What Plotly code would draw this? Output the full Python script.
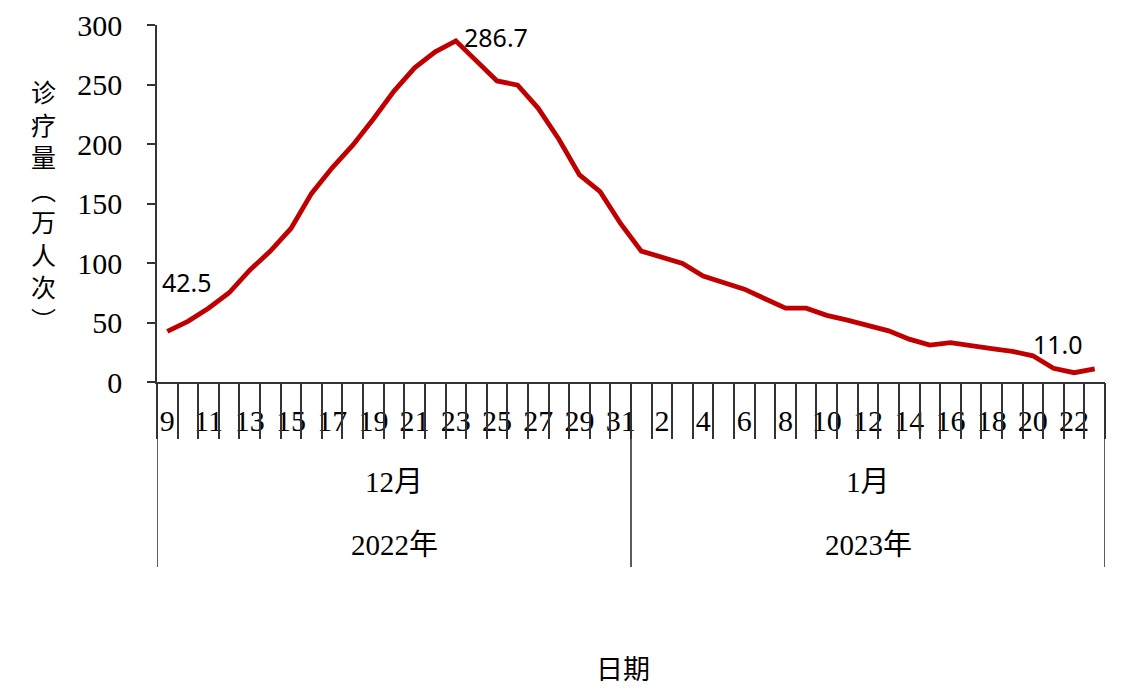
import plotly.graph_objects as go

# ---------------- data ----------------
dec_days = list(range(9, 32))
jan_days = list(range(1, 24))
dec_values = [42.5, 51, 62, 75, 94, 110, 129, 158.5, 180, 199, 221, 244.5, 264,
              277.5, 286.7, 270.5, 253, 249.5, 230, 204, 174, 160, 133]
jan_values = [110, 105, 99.7, 89, 84, 78, 70, 62, 62, 56, 52, 47.6, 43, 36, 31,
              33, 30, 28, 25.8, 22, 11.5, 7.8, 11.0]
month_labels = ["12月", "1月"]
year_labels = ["2022年", "2023年"]
y_title_chars = ["诊", "疗", "量", "︵", "万", "人", "次", "︶"]
x_title = "日期"
y_ticks = [0, 50, 100, 150, 200, 250, 300]

days = dec_days + jan_days
values = dec_values + jan_values
idx = list(range(len(days)))
n_dec = len(dec_days)
group_bounds = [(0, n_dec - 1), (n_dec, len(days) - 1)]

SERIF = "Liberation Serif, Times New Roman, Noto Sans CJK SC, serif"
CJK = "Noto Sans CJK SC, sans-serif"
LAB = "Noto Sans, Open Sans, sans-serif"
AX = "#333333"
RED = "#C00000"

fig = go.Figure()
fig.add_trace(go.Scatter(x=idx, y=values, mode="lines",
                         line=dict(color=RED, width=4.8),
                         showlegend=False, hoverinfo="x+y"))
# helper trace so that the boundary-tick axis is drawn
fig.add_trace(go.Scatter(x=idx, y=values, mode="none", xaxis="x2",
                         showlegend=False, hoverinfo="skip"))

label_idx = idx[::2]
label_txt = [str(d) for d in days[::2]]
boundaries = [i - 0.5 for i in idx] + [idx[-1] + 0.5]
xr = [-0.5, idx[-1] + 0.5]

# page body has an 8px margin: figure is 8px smaller and shifted accordingly
fig.update_layout(
    width=1140, height=690,
    margin=dict(l=149, r=43, t=17, b=316, autoexpand=False),
    paper_bgcolor="white", plot_bgcolor="white",
    xaxis=dict(range=xr, tickmode="array", tickvals=label_idx, ticktext=label_txt,
               ticks="", showline=True, linecolor=AX, linewidth=1.6,
               showgrid=False, zeroline=False, automargin=False,
               tickfont=dict(family=SERIF, size=30, color="black"),
               ticklabelstandoff=11),
    xaxis2=dict(range=xr, overlaying="x", anchor="y", side="bottom",
                tickmode="array", tickvals=boundaries, ticks="outside",
                ticklen=56, tickwidth=1.6, tickcolor=AX, automargin=False,
                showticklabels=False, showline=False, showgrid=False,
                zeroline=False),
    yaxis=dict(range=[0, 300], tickmode="array", tickvals=y_ticks,
               ticks="outside", ticklen=8, tickwidth=1.6, tickcolor=AX,
               showline=True, linecolor=AX, linewidth=1.6,
               showgrid=False, zeroline=False, automargin=False,
               tickfont=dict(family=SERIF, size=30, color="black"),
               ticklabelstandoff=19),
)

# long separators of the multi-level category axis
sep_pos = [group_bounds[0][0] - 0.5, group_bounds[0][1] + 0.5, group_bounds[1][1] + 0.5]
for xp in sep_pos:
    fig.add_shape(type="line", xref="x", yref="paper", x0=xp, x1=xp, y0=0, y1=-0.518,
                  line=dict(color=AX, width=1.6))

ann = []
for (a, b), m, yl in zip(group_bounds, month_labels, year_labels):
    c = (idx[a] + idx[b]) / 2
    ann.append(dict(x=c, y=-0.28, xref="x", yref="paper", text=m, showarrow=False,
                    xanchor="center", yanchor="middle",
                    font=dict(family=SERIF, size=29, color="black")))
    ann.append(dict(x=c, y=-0.457, xref="x", yref="paper", text=yl, showarrow=False,
                    xanchor="center", yanchor="middle",
                    font=dict(family=SERIF, size=29, color="black")))

ann.append(dict(x=0.492, y=-0.80, xref="paper", yref="paper", text=x_title,
                showarrow=False, xanchor="center", yanchor="middle",
                font=dict(family=CJK, size=27, color="black")))

ann.append(dict(x=-0.120, y=0.497, xref="paper", yref="paper",
                text="<br>".join(y_title_chars), showarrow=False,
                xanchor="center", yanchor="middle", align="center",
                font=dict(family=CJK, size=25, color="black")))

# data labels
peak_i = values.index(max(values))
ann.append(dict(x=idx[0], y=values[0], text=f"{values[0]:.1f}", showarrow=False,
                xanchor="center", yanchor="middle",
                xshift=20, yshift=49, font=dict(family=LAB, size=25, color="black")))
ann.append(dict(x=idx[peak_i], y=values[peak_i], text=f"{values[peak_i]:.1f}",
                showarrow=False, xanchor="left", yanchor="middle", xshift=6, yshift=4,
                font=dict(family=LAB, size=25, color="black")))
ann.append(dict(x=idx[-1], y=values[-1], text=f"{values[-1]:.1f}", showarrow=False,
                xanchor="center", yanchor="middle",
                xshift=-37, yshift=25, font=dict(family=LAB, size=25, color="black")))

fig.update_layout(annotations=ann)
fig.write_html("out.html")
